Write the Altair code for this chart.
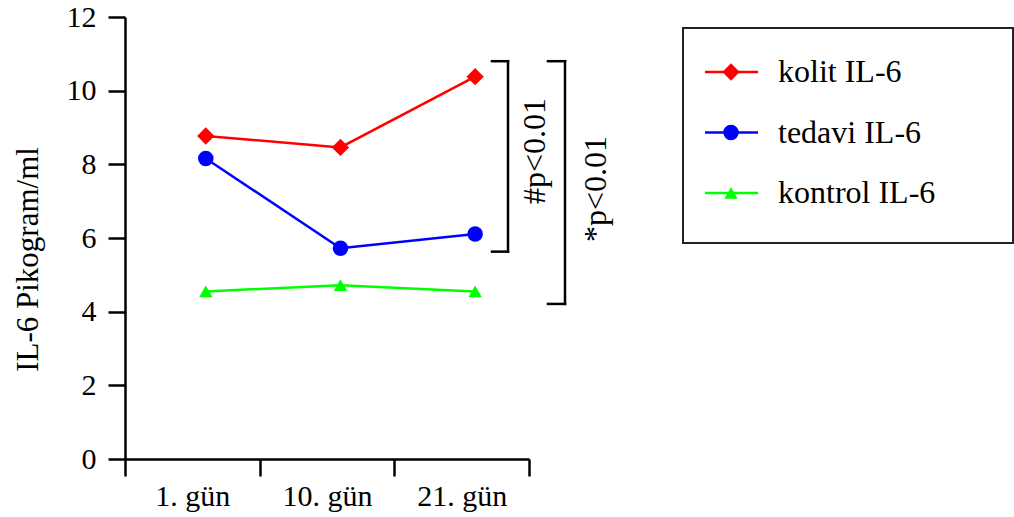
import altair as alt
import pandas as pd

# ---- data ----
days = ["1. gün", "10. gün", "21. gün"]
series = ["kolit IL-6", "tedavi IL-6", "kontrol IL-6"]
kolit = [8.77, 8.46, 10.38]
tedavi = [8.16, 5.72, 6.11]
kontrol = [4.55, 4.72, 4.55]

bracket_hash = [10.8, 5.63]   # top, bottom of "#" bracket
bracket_star = [10.8, 4.21]   # top, bottom of "*" bracket
label_hash = "#p<0.01"
label_star = "*p<0.01"
y_title = "IL-6 Pikogram/ml"

# ---- styling ----
colors = ["#ff0000", "#0000ff", "#00ff00"]
shapes = ["diamond", "circle", "triangle-up"]
sizes = [300, 180, 250]
FONT = "Liberation Serif"
FS = 30
FS_LEG = 32

rows = []
for name, vals in zip(series, [kolit, tedavi, kontrol]):
    for d, v in zip(days, vals):
        rows.append({"series": name, "day": d, "value": v})
df = pd.DataFrame(rows)

color_scale = alt.Scale(domain=series, range=colors)
shape_scale = alt.Scale(domain=series, range=shapes)
size_scale = alt.Scale(domain=series, range=sizes)
y_scale = alt.Scale(domain=[0, 12], nice=False, zero=True)

x_enc = alt.X(
    "day:N", sort=days, bandPosition=0.6,
    scale=alt.Scale(type="band", domain=days, paddingInner=0, paddingOuter=0),
    axis=alt.Axis(title=None, labelAngle=0, tickBand="extent", labelPadding=5),
)
y_enc = alt.Y(
    "value:Q", scale=y_scale,
    axis=alt.Axis(values=[0, 2, 4, 6, 8, 10, 12], title=y_title, labelPadding=12,
                  titleX=-97, titleY=242, titleAngle=270, titleFontSize=31,
                  titleAlign="center", titleBaseline="middle"),
)

base = alt.Chart(df)
lines = base.mark_line(strokeWidth=2.5).encode(
    x=x_enc, y=y_enc,
    color=alt.Color("series:N", scale=color_scale, legend=None),
    detail="series:N",
)
points = base.mark_point(filled=True, opacity=1).encode(
    x=x_enc, y=y_enc,
    color=alt.Color("series:N", scale=color_scale, legend=None),
    shape=alt.Shape("series:N", scale=shape_scale, legend=None),
    size=alt.Size("series:N", scale=size_scale, legend=None),
)

# ---- significance brackets ----
one = pd.DataFrame({"a": [0]})

def bracket(xv, xleft, top, bottom):
    rule = dict(color="black", strokeWidth=2.5, strokeCap="square")
    vert = alt.Chart(one).mark_rule(**rule).encode(
        x=alt.value(xv), y=alt.datum(top, scale=y_scale), y2=alt.datum(bottom))
    h1 = alt.Chart(one).mark_rule(**rule).encode(
        x=alt.value(xleft), x2=alt.value(xv), y=alt.datum(top, scale=y_scale))
    h2 = alt.Chart(one).mark_rule(**rule).encode(
        x=alt.value(xleft), x2=alt.value(xv), y=alt.datum(bottom, scale=y_scale))
    return vert + h1 + h2

br1 = bracket(383, 367, bracket_hash[0], bracket_hash[1])
br2 = bracket(440, 423, bracket_star[0], bracket_star[1])

t1 = alt.Chart(one).mark_text(font=FONT, fontSize=FS_LEG, angle=270, align="center",
                              baseline="middle", color="black").encode(
    x=alt.value(410), y=alt.datum(8.36, scale=y_scale),
    text=alt.value(label_hash))
t2 = alt.Chart(one).mark_text(font=FONT, fontSize=FS_LEG, angle=270, align="center",
                              baseline="middle", color="black").encode(
    x=alt.value(471), y=alt.datum(7.33, scale=y_scale),
    text=alt.value(label_star))

# ---- legend (drawn by hand) ----
leg = pd.DataFrame({"series": series})
leg["ly"] = [55 + 60.5 * i for i in range(len(series))]

box = alt.Chart(one).mark_rect(fill="white", stroke="#222222", strokeWidth=2).encode(
    x=alt.value(558), x2=alt.value(888), y=alt.value(11), y2=alt.value(226))
leg_lines = alt.Chart(leg).mark_rule(strokeWidth=2.5).encode(
    x=alt.value(580), x2=alt.value(633),
    y=alt.Y("ly:Q", scale=None),
    color=alt.Color("series:N", scale=color_scale, legend=None))
leg_pts = alt.Chart(leg).mark_point(filled=True, opacity=1).encode(
    x=alt.value(606), y=alt.Y("ly:Q", scale=None),
    color=alt.Color("series:N", scale=color_scale, legend=None),
    shape=alt.Shape("series:N", scale=shape_scale, legend=None),
    size=alt.Size("series:N", scale=size_scale, legend=None))
leg_txt = alt.Chart(leg).mark_text(font=FONT, fontSize=FS_LEG, align="left",
                                   baseline="middle", color="black").encode(
    x=alt.value(653), y=alt.Y("ly:Q", scale=None), text="series:N")

chart = alt.layer(
    lines, points, br1, br2, t1, t2, box, leg_lines, leg_pts, leg_txt
).properties(
    width=404, height=442,
    autosize=alt.AutoSizeParams(type="none"),
    padding={"left": 125, "top": 17, "right": 485, "bottom": 58},
).configure(font=FONT).configure_view(stroke=None).configure_axis(
    domainColor="black", domainWidth=2.5, tickColor="black", tickWidth=2.5,
    tickSize=17, labelFont=FONT, labelFontSize=FS, labelColor="black",
    titleFont=FONT, titleFontSize=FS, titleFontWeight="normal", titleColor="black",
    grid=False,
)

chart.save("out.html", embed_options={"renderer": "svg", "actions": False})
